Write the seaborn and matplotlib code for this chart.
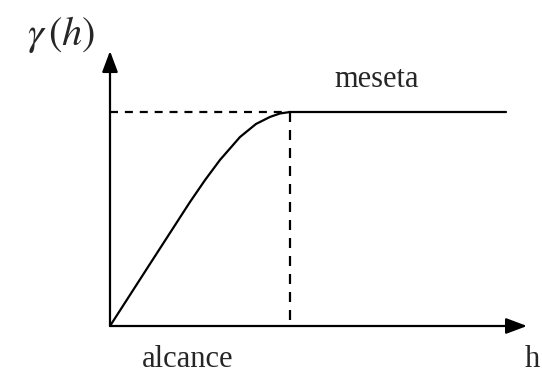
import matplotlib
matplotlib.use("Agg")
import matplotlib.pyplot as plt
import seaborn as sns
import pandas as pd

# Variogram shape: lag h (in units of the range) vs gamma(h) (in units of the sill)
lag = [0.0, 0.222, 0.444, 0.528, 0.611, 0.722, 0.811, 0.889, 0.944, 1.0]
gamma = [0.0, 0.290, 0.579, 0.682, 0.776, 0.883, 0.944, 0.977, 0.993, 1.0]
sill = 1.0
range_a = 1.0
plateau_end = 2.2
x_axis_end = 2.317
y_axis_end = 1.285

labels = {"y": r"$\gamma\,(h)$", "sill": "meseta", "range": "alcance", "x": "h"}

sns.set_style("white")
plt.rcParams["mathtext.fontset"] = "stix"
plt.rcParams["font.family"] = ["Liberation Serif", "DejaVu Serif"]

fig = plt.figure(figsize=(5.42, 3.75), dpi=100)
ax = fig.add_axes([0, 0, 1, 1])
ax.set_xlim(-110 / 180, 432 / 180)
ax.set_ylim(-49 / 214, 326 / 214)
ax.axis("off")

# curve rising to the sill, then the flat plateau
df = pd.DataFrame({"h": lag + [plateau_end], "g": gamma + [sill]})
sns.lineplot(data=df, x="h", y="g", ax=ax, color="black", lw=1.6, sort=False,
             solid_joinstyle="round")

# dashed guides to the sill and the range
ax.plot([0, range_a], [sill, sill], color="black", lw=1.6, linestyle=(0, (3.6, 3.1)))
ax.plot([range_a, range_a], [sill, 0], color="black", lw=1.6, linestyle=(0, (4.5, 3.6)))

arrow = dict(arrowstyle="-|>,head_length=0.8,head_width=0.3", mutation_scale=16,
             lw=1.6, color="black", shrinkA=0, shrinkB=0)
ax.annotate("", xy=(x_axis_end, 0), xytext=(0, 0), arrowprops=arrow)
ax.annotate("", xy=(0, y_axis_end), xytext=(0, 0), arrowprops=arrow)

ax.text(-0.272, 1.36, labels["y"], fontsize=29, ha="center", va="center")
ax.text(1.483, 1.117, labels["sill"], fontsize=22, ha="center", va="baseline")
ax.text(0.433, -0.192, labels["range"], fontsize=22, ha="center", va="baseline")
ax.text(2.305, -0.192, labels["x"], fontsize=22, ha="left", va="baseline")

fig.savefig("out.png", dpi=100)
